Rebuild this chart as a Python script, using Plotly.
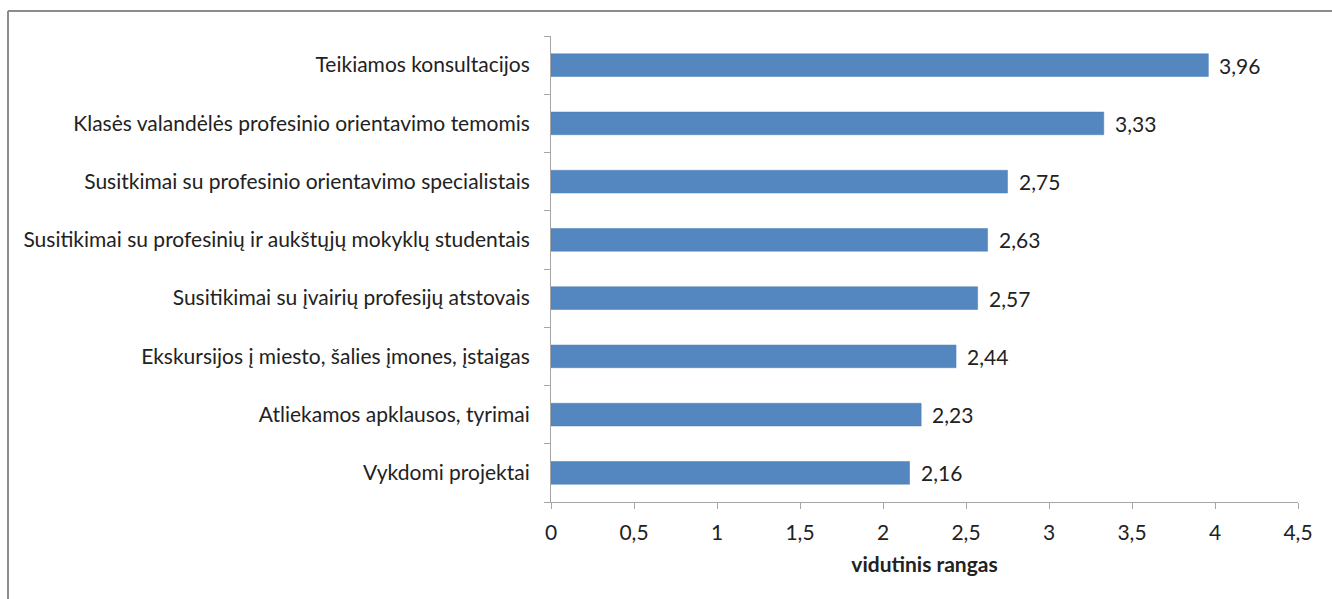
import plotly.graph_objects as go

# Data (bottom to top, as drawn)
categories = [
    "Vykdomi projektai",
    "Atliekamos apklausos, tyrimai",
    "Ekskursijos į miesto, šalies įmones, įstaigas",
    "Susitikimai su įvairių profesijų atstovais",
    "Susitikimai su profesinių ir aukštųjų mokyklų studentais",
    "Susitkimai su profesinio orientavimo specialistais",
    "Klasės valandėlės profesinio orientavimo temomis",
    "Teikiamos konsultacijos",
]
values = [2.16, 2.23, 2.44, 2.57, 2.63, 2.75, 3.33, 3.96]
labels = [f"{v:.2f}".replace(".", ",") for v in values]
x_ticks = [0, 0.5, 1, 1.5, 2, 2.5, 3, 3.5, 4, 4.5]
x_tick_text = [str(t).replace(".", ",") for t in x_ticks]

FONT = 21

fig = go.Figure()

fig.add_trace(
    go.Bar(
        x=values,
        y=categories,
        orientation="h",
        marker=dict(color="#5486C0", line=dict(color="#4A7EBB", width=0.5)),
        cliponaxis=False,
    )
)

# value labels to the right of each bar
for v, c, t in zip(values, categories, labels):
    fig.add_annotation(
        x=v, y=c, text=t, showarrow=False,
        xanchor="left", xshift=9,
        font=dict(size=FONT, color="#222222"),
    )

# chart frame: only top and left edges are visible in the window
frame = dict(color="#8C8C8C", width=2)
px_x = lambda p: (p - 551) / 747
px_y = lambda p: (502 - p) / 466

fig.update_layout(
    width=1332,
    height=599,
    margin=dict(l=551, r=34, t=36, b=97),
    paper_bgcolor="white",
    plot_bgcolor="white",
    font=dict(family="Lato, Carlito, sans-serif", size=FONT, color="#222222"),
    showlegend=False,
    bargap=0.61,
    xaxis=dict(
        range=[0, 4.5],
        tickvals=x_ticks,
        ticktext=x_tick_text,
        showgrid=False,
        zeroline=False,
        showline=True,
        linecolor="#A6A6A6",
        linewidth=1,
        ticks="outside",
        ticklen=6,
        tickcolor="#A6A6A6",
        tickfont=dict(size=FONT),
        ticklabelstandoff=6,
        title=dict(
            text="<b>vidutinis rangas</b>",
            font=dict(size=FONT),
            standoff=14,
        ),
    ),
    yaxis=dict(
        showgrid=False,
        showline=True,
        linecolor="#A6A6A6",
        linewidth=1,
        ticks="outside",
        ticklen=6,
        tickcolor="#A6A6A6",
        tickson="boundaries",
        tickfont=dict(size=FONT),
        ticklabelstandoff=16,
    ),
    shapes=[
        dict(type="line", xref="paper", yref="paper",
             x0=px_x(8), x1=px_x(1400), y0=px_y(11), y1=px_y(11), line=frame),
        dict(type="line", xref="paper", yref="paper",
             x0=px_x(8), x1=px_x(8), y0=px_y(11), y1=px_y(700), line=frame),
    ],
)

# drop the default 8px page margin so the figure fills the window exactly
fig.write_html(
    "out.html",
    config={"displayModeBar": False},
    post_script="document.body.style.margin='0';document.body.style.overflow='hidden';",
)
